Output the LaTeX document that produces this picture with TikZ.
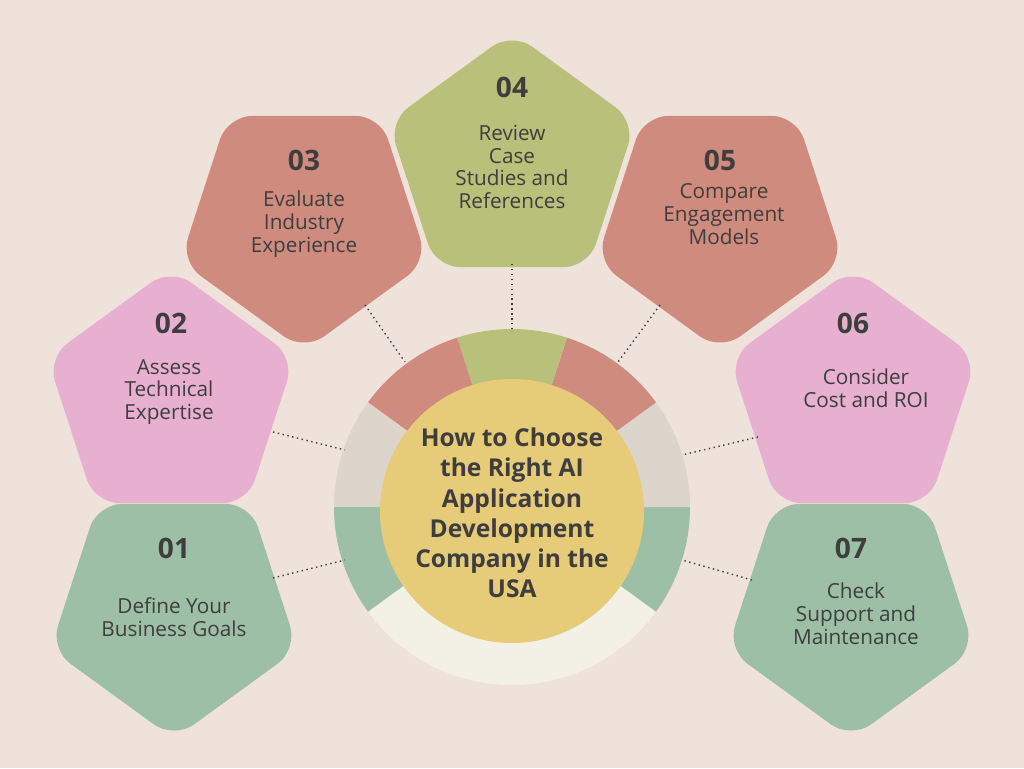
\documentclass[tikz,border=0pt]{standalone}
\usepackage{fontspec}
\setmainfont{Open Sans}
\usetikzlibrary{shapes.geometric}
\definecolor{bg}{HTML}{EEE2DA}
\definecolor{rust}{HTML}{CF8B7E}
\definecolor{olive}{HTML}{B9C07A}
\definecolor{rose}{HTML}{E8B0D0}
\definecolor{sage}{HTML}{9DBFA5}
\definecolor{gold}{HTML}{E6CB78}
\definecolor{stone}{HTML}{DDD4CB}
\definecolor{cream}{HTML}{F3F1E6}
\definecolor{ink}{HTML}{3E3E3E}
\newcommand{\R}{2.6}
\tikzset{
  penta/.style={regular polygon,regular polygon sides=5,minimum size=2*\R cm,
    inner sep=0pt,rounded corners=14pt,fill=#1},
  num/.style={font=\fontsize{16}{18}\selectfont\bfseries,text=ink},
  lbl/.style={font=\fontsize{11.8}{13}\selectfont,text=ink,align=center},
  link/.style={dotted,thick,ink}
}
\begin{document}
\begin{tikzpicture}[x=0.02cm,y=-0.02cm]
\fill[bg] (0,0) rectangle (1024,768);
\coordinate (o) at (512,507);
% ring
\fill[cream] (o) -- ++(-216:178) arc[start angle=-216,end angle=-324,radius=178] -- cycle;
\foreach \a/\c in {324/sage,0/stone,36/rust,72/olive,108/rust,144/stone,180/sage}{
  \fill[\c] (o) -- ++(-\a:178) arc[start angle=-\a,delta angle=-36,radius=178] -- cycle;
}
\node[circle,fill=gold,minimum size=264*0.02cm,inner sep=0pt] (hub) at (512,511) {};
\node[font=\fontsize{14}{17.2}\selectfont\bfseries,text=ink,align=center] at (512,513)
  {How to Choose\\the Right AI\\Application\\Development\\Company in the\\USA};
% pentagons
\node[penta=sage,shape border rotate=180] (p1) at (174,609) {};
\node[penta=rose] (p2) at (171,398) {};
\node[penta=rust,shape border rotate=180] (p3) at (304,221) {};
\node[penta=olive] (p4) at (512,162) {};
\node[penta=rust,shape border rotate=180] (p5) at (720,221) {};
\node[penta=rose] (p6) at (853,398) {};
\node[penta=sage,shape border rotate=180] (p7) at (851,609) {};
% numbers and labels
\node[num] at (174,548) {01};
\node[lbl] at (174,617) {Define Your\\Business Goals};
\node[num] at (171,323) {02};
\node[lbl] at (169,392) {Assess\\Technical\\Expertise};
\node[num] at (304,160) {03};
\node[lbl] at (304,224) {Evaluate\\Industry\\Experience};
\node[num] at (512,87) {04};
\node[lbl] at (512,167) {Review\\Case\\Studies and\\References};
\node[num] at (720,160) {05};
\node[lbl] at (724,214) {Compare\\Engagement\\Models};
\node[num] at (853,323) {06};
\node[lbl] at (866,388) {Consider\\Cost and ROI};
\node[num] at (851,548) {07};
\node[lbl] at (856,614) {Check\\Support and\\Maintenance};
% dotted links
\coordinate (e1) at (273,578); \coordinate (r1) at (345,560);
\coordinate (e2) at (273,432); \coordinate (r2) at (345,450);
\coordinate (e3) at (365,305); \coordinate (r3) at (405,362);
\coordinate (e4) at (512,264); \coordinate (r4) at (512,328);
\coordinate (e5) at (660,305); \coordinate (r5) at (618,362);
\coordinate (e6) at (758,437); \coordinate (r6) at (682,455);
\coordinate (e7) at (752,580); \coordinate (r7) at (682,560);
\foreach \i in {1,...,7}{
  \draw[link] (e\i) -- (r\i);
}
\end{tikzpicture}
\end{document}
